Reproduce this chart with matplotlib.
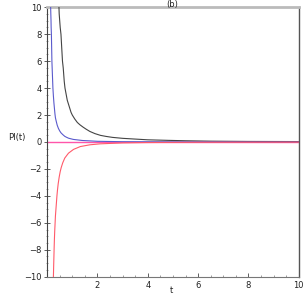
import matplotlib
matplotlib.use("Agg")
import matplotlib.pyplot as plt
from matplotlib.ticker import MultipleLocator

# values
t_black = [0.47, 0.48, 0.50, 0.52, 0.55, 0.58, 0.61, 0.64, 0.66, 0.68, 0.71, 0.75, 0.80, 0.85, 0.90, 0.95, 1.0,
           1.1, 1.2, 1.3, 1.43, 1.55, 1.7, 1.9, 2.12, 2.35, 2.6, 3.0, 3.45, 4.0, 4.8, 5.5, 6.5, 8.0, 10.0]
v_black = [10.0, 9.5, 9.0, 8.5, 8.0, 7.0, 6.0, 5.5, 5.0, 4.5, 4.0, 3.6, 3.1, 2.8, 2.5, 2.2, 2.0,
           1.7, 1.45, 1.28, 1.1, 0.95, 0.78, 0.62, 0.49, 0.41, 0.34, 0.27, 0.22, 0.16, 0.12, 0.09, 0.06, 0.04, 0.03]

t_blue = [0.14, 0.147, 0.155, 0.16, 0.17, 0.18, 0.19, 0.20, 0.21, 0.22, 0.23, 0.25, 0.27, 0.29, 0.31, 0.33,
          0.36, 0.40, 0.45, 0.50, 0.55, 0.62, 0.70, 0.77, 0.85, 1.04, 1.4, 2.0, 3.0, 5.0, 10.0]
v_blue = [10.0, 9.5, 9.0, 8.5, 8.0, 7.0, 6.0, 5.5, 5.0, 4.5, 4.0, 3.4, 2.9, 2.5, 2.1, 1.8,
          1.55, 1.25, 1.0, 0.82, 0.68, 0.55, 0.42, 0.35, 0.28, 0.19, 0.11, 0.05, 0.02, 0.01, 0.0]

t_red = [0.25, 0.26, 0.27, 0.28, 0.29, 0.30, 0.31, 0.33, 0.35, 0.37, 0.39, 0.41, 0.44, 0.48, 0.52, 0.56, 0.62,
         0.70, 0.78, 0.85, 1.05, 1.32, 1.7, 2.1, 3.0, 4.0, 6.0, 10.0]
v_red = [-10.0, -9.2, -8.5, -7.8, -7.2, -6.7, -6.3, -5.5, -5.0, -4.5, -4.0, -3.6, -3.1, -2.6, -2.2, -1.9, -1.55,
         -1.2, -1.0, -0.83, -0.55, -0.34, -0.21, -0.14, -0.07, -0.04, -0.02, -0.01]

t_zero = [0.0, 10.0]
v_zero = [0.0, 0.0]

fig = plt.figure(figsize=(3.04, 3.04), dpi=100)
ax = fig.add_axes([0.155, 0.09, 0.828, 0.886])

ax.plot(t_zero, v_zero, color="#ff55aa", lw=1.0, zorder=2)
ax.plot(t_black, v_black, color="#444444", lw=0.8, zorder=3)
ax.plot(t_blue, v_blue, color="#5a5acc", lw=0.8, zorder=3)
ax.plot(t_red, v_red, color="#ff5a6a", lw=0.8, zorder=3)

ax.set_xlim(0, 10)
ax.set_ylim(-10, 10)

ax.xaxis.set_major_locator(MultipleLocator(2))
ax.xaxis.set_minor_locator(MultipleLocator(0.5))
ax.yaxis.set_major_locator(MultipleLocator(2))
ax.yaxis.set_minor_locator(MultipleLocator(0.5))
ax.set_xticks([2, 4, 6, 8, 10])
ax.set_xticklabels(["2", "4", "6", "8", "10"])

ax.tick_params(axis="both", labelsize=6, colors="#444444", width=0.6)
ax.tick_params(axis="x", which="major", direction="in", length=3, pad=3)
ax.tick_params(axis="x", which="minor", direction="in", length=1.5, width=0.5, colors="#777777")
ax.tick_params(axis="y", which="major", direction="inout", length=4, pad=2)
ax.tick_params(axis="y", which="minor", direction="inout", length=2, width=0.5, colors="#777777")
for lbl in ax.get_xticklabels() + ax.get_yticklabels():
    lbl.set_color("#222222")

ax.spines["top"].set_color("#bbbbbb")
ax.spines["top"].set_linewidth(2.0)
ax.spines["right"].set_color("#555555")
ax.spines["right"].set_linewidth(1.0)
ax.spines["left"].set_color("#444444")
ax.spines["left"].set_linewidth(0.8)
ax.spines["bottom"].set_color("#777777")
ax.spines["bottom"].set_linewidth(0.8)

ax.set_ylabel("PI(t)", fontsize=6, rotation=0, color="#222222")
ax.yaxis.set_label_coords(-0.12, 0.5)

# title and x label placed in figure coordinates so they stay inside the image
fig.text(0.565, 0.999, "(b)", fontsize=6, ha="center", va="top", color="#222222")
fig.text(0.565, 0.046, "t", fontsize=6, ha="center", va="center", color="#222222")

fig.savefig("out.png", dpi=100)
